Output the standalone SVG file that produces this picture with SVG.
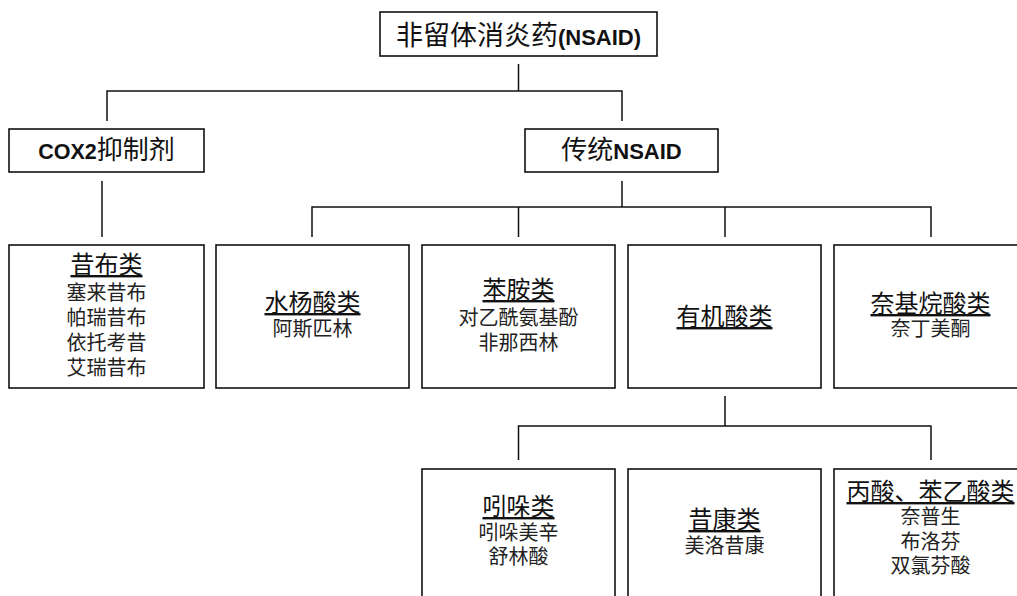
<svg xmlns="http://www.w3.org/2000/svg" width="1017" height="596" viewBox="0 0 1017 596">
<style>
.box{fill:#fff;stroke:#111;stroke-width:1.6}
.ln{fill:none;stroke:#111;stroke-width:1.5}
.cjk{font-family:"Noto Sans CJK SC","Noto Sans",sans-serif;fill:#111}
.lat{font-family:"Liberation Sans",Arial,sans-serif;font-weight:bold}
.body{font-family:"Liberation Serif","Noto Sans CJK SC",serif;fill:#222;text-anchor:middle;font-size:20px}
.hd{font-size:24px;text-decoration:underline;fill:#111}
</style>
<rect width="1017" height="596" fill="#fff"/>
<g id="connectors">
<path class="ln" d="M518.5 64V91M107 121V91H622V121"/>
<path class="ln" d="M102 181V237"/>
<path class="ln" d="M622 181V207M312 237V207H931V237M518.5 207V237M725 207V237"/>
<path class="ln" d="M725 396V426M518.5 460V426H931V460"/>
</g>
<g id="root">
<rect class="box" x="380" y="12" width="277" height="44"/>
<text class="cjk" x="518.5" y="45" text-anchor="middle" font-size="27"><tspan>非留体消炎药</tspan><tspan class="lat" font-size="22">(NSAID)</tspan></text>
</g>
<g id="cox2">
<rect class="box" x="9" y="129" width="195" height="43"/>
<text class="cjk" x="106.5" y="159" text-anchor="middle" font-size="26"><tspan class="lat" font-size="21.5">COX2</tspan><tspan>抑制剂</tspan></text>
</g>
<g id="traditional">
<rect class="box" x="525" y="129" width="193" height="43"/>
<text class="cjk" x="621.5" y="159" text-anchor="middle" font-size="26"><tspan>传统</tspan><tspan class="lat" font-size="22">NSAID</tspan></text>
</g>
<g id="coxibs">
<rect class="box" x="9" y="245" width="195" height="143"/>
<text class="body"><tspan class="hd" x="106.5" y="273">昔布类</tspan><tspan x="106.5" y="300">塞来昔布</tspan><tspan x="106.5" y="325">帕瑞昔布</tspan><tspan x="106.5" y="350">依托考昔</tspan><tspan x="106.5" y="375">艾瑞昔布</tspan></text>
</g>
<g id="salicylates">
<rect class="box" x="216" y="245" width="193" height="143"/>
<text class="body"><tspan class="hd" x="312.5" y="311">水杨酸类</tspan><tspan x="312.5" y="336">阿斯匹林</tspan></text>
</g>
<g id="anilines">
<rect class="box" x="422" y="245" width="193" height="143"/>
<text class="body"><tspan class="hd" x="518.5" y="298">苯胺类</tspan><tspan x="518.5" y="325">对乙酰氨基酚</tspan><tspan x="518.5" y="350">非那西林</tspan></text>
</g>
<g id="organic-acids">
<rect class="box" x="628" y="245" width="193" height="143"/>
<text class="body"><tspan class="hd" x="724.5" y="325">有机酸类</tspan></text>
</g>
<g id="naphthylalkanones">
<rect class="box" x="834" y="245" width="193" height="143"/>
<text class="body"><tspan class="hd" x="930.5" y="312">奈基烷酸类</tspan><tspan x="930.5" y="336">奈丁美酮</tspan></text>
</g>
<g id="indoles">
<rect class="box" x="422" y="469" width="193" height="143"/>
<text class="body"><tspan class="hd" x="518.5" y="515">吲哚类</tspan><tspan x="518.5" y="540">吲哚美辛</tspan><tspan x="518.5" y="564">舒林酸</tspan></text>
</g>
<g id="oxicams">
<rect class="box" x="628" y="469" width="193" height="143"/>
<text class="body"><tspan class="hd" x="724.5" y="528">昔康类</tspan><tspan x="724.5" y="553">美洛昔康</tspan></text>
</g>
<g id="propionic">
<rect class="box" x="834" y="469" width="193" height="143"/>
<text class="body"><tspan class="hd" x="930.5" y="500">丙酸、苯乙酸类</tspan><tspan x="930.5" y="524">奈普生</tspan><tspan x="930.5" y="548.5">布洛芬</tspan><tspan x="930.5" y="573">双氯芬酸</tspan></text>
</g>
</svg>
